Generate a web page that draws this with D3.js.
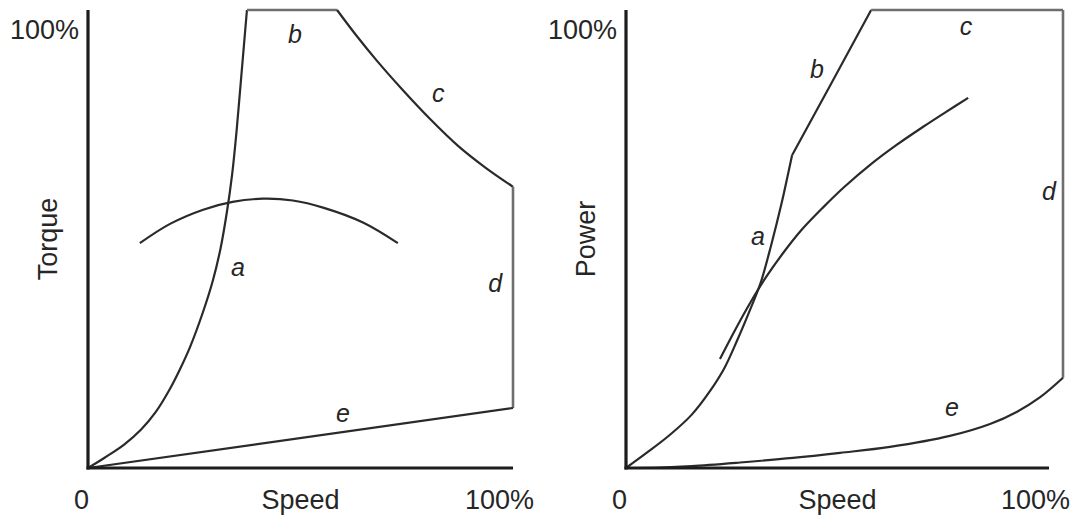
<!DOCTYPE html>
<html>
<head>
<meta charset="utf-8">
<script src="https://cdn.jsdelivr.net/npm/d3@7"></script>
<style>
  html, body { margin: 0; padding: 0; background: #fff; }
  svg { display: block; }
  text { font-family: "Liberation Sans", Arial, Helvetica, sans-serif; fill: #262626; }
</style>
</head>
<body>
<svg id="chart" width="1078" height="519"></svg>
<script>
// ---------- DATA (percent of full speed / full torque or power) ----------
// Torque panel
const torqueA     = [[0,0],[4,2.3],[8.5,5.1],[12.5,8.4],[16,12.3],[19,16.8],[21.5,21.3],[24,26.4],[27,33.9],[29.4,41.0],[31.2,48.0],[32.7,56.0],[33.9,64.0],[35,74.0],[36.2,87.0],[37.4,100]];
const torqueB     = [[37.4,100],[58.6,100]];
const torqueC     = [[58.6,100],[63,94.6],[68,88.9],[74,82.6],[80.5,76.2],[87,70.4],[93.5,65.6],[100,61.4]];
const torqueD     = [[100,61.4],[100,13.1]];
const torqueE     = [[100,13.1],[0,0]];
const torqueArc   = [[12.2,49.1],[19.3,53.3],[27.1,56.4],[34,58.1],[41.2,58.8],[48.2,58.4],[55.5,56.8],[64.7,53.6],[72.9,49.1]];
const torqueLabels = [["b",48.7,92.8],["c",82.4,79.9],["a",35.3,41.9],["d",95.8,38.4],["e",60.0,10.0]];

// Power panel
const powerA      = [[0,0],[5,3.5],[10,7.2],[15,11.6],[19,16.5],[22.5,21.8],[25.5,28.0],[28.5,34.8],[30.8,40.4],[33.2,48.6],[35.6,57.8],[38,68.3]];
const powerB      = [[38,68.3],[47,84.0],[56.1,100]];
const powerC      = [[56.1,100],[100,100]];
const powerD      = [[100,100],[100,19.7]];
const powerE      = [[100,19.7],[94.7,15.4],[89.5,12.3],[83.3,9.6],[74.1,7.0],[60.4,4.6],[49,3.3],[38.2,2.2],[26.1,1.2],[15,0.4],[8,0.1],[0,0]];
const powerArc    = [[21.5,23.8],[25,30.2],[28.5,36.2],[32,41.6],[36,47.0],[40,51.8],[45,56.8],[50,61.4],[56,66.3],[62,70.6],[68,74.5],[73,77.6],[78.3,80.8]];
const powerLabels = [["b",43.7,85.2],["a",30.2,48.7],["c",77.8,94.5],["d",96.8,58.5],["e",74.6,11.4]];

// Axis text
const axisTitles   = ["Torque","Power"];
const xTitle       = "Speed";
const xTickLabels  = ["0","100%"];
const yTickLabel   = "100%";

// ---------- DRAWING ----------
const svg = d3.select("#chart");

const panels = [
  { title: axisTitles[0], left: 88,  right: 513,  axisEnd: 100,  curves: { a: torqueA, b: torqueB, c: torqueC, d: torqueD, e: torqueE, arc: torqueArc },
    smooth: { a: true, b: false, c: true, d: false, e: false, arc: true },
    gray:   { b: true, d: true }, labels: torqueLabels },
  { title: axisTitles[1], left: 626, right: 1063, axisEnd: 96.8, curves: { a: powerA, b: powerB, c: powerC, d: powerD, e: powerE, arc: powerArc },
    smooth: { a: true, b: false, c: false, d: false, e: true, arc: true },
    gray:   { c: true, d: true }, labels: powerLabels }
];

const plotTop = 10, plotBottom = 468;
const axisFont = 27, letterFont = 25;

panels.forEach(p => {
  const x = d3.scaleLinear().domain([0, 100]).range([p.left, p.right]);
  const y = d3.scaleLinear().domain([0, 100]).range([plotBottom, plotTop]);
  const g = svg.append("g");

  const lineSmooth = d3.line().x(d => x(d[0])).y(d => y(d[1])).curve(d3.curveCatmullRom.alpha(0.5));
  const lineStraight = d3.line().x(d => x(d[0])).y(d => y(d[1])).curve(d3.curveLinear);

  // curves
  Object.keys(p.curves).forEach(k => {
    const isGray = p.gray[k];
    g.append("path")
      .attr("d", (p.smooth[k] ? lineSmooth : lineStraight)(p.curves[k]))
      .attr("fill", "none")
      .attr("stroke", isGray ? "#6e6e6e" : "#2a2a2a")
      .attr("stroke-width", isGray ? 2.6 : 2.2)
      .attr("stroke-linejoin", "miter")
      .attr("stroke-linecap", "butt");
  });

  // axes
  g.append("line")
    .attr("x1", x(0)).attr("x2", x(0))
    .attr("y1", y(100)).attr("y2", y(0) + 1.5)
    .attr("stroke", "#1c1c1c").attr("stroke-width", 3.2);
  g.append("line")
    .attr("x1", x(0) - 1.5).attr("x2", x(p.axisEnd))
    .attr("y1", y(0)).attr("y2", y(0))
    .attr("stroke", "#1c1c1c").attr("stroke-width", 3.2);

  // tick labels
  g.append("text").attr("x", x(0) - 9).attr("y", y(100) + 29)
    .attr("text-anchor", "end").attr("font-size", axisFont).text(yTickLabel);
  g.append("text").attr("x", x(0) + 1).attr("y", plotBottom + 41)
    .attr("text-anchor", "end").attr("font-size", axisFont).text(xTickLabels[0]);
  g.append("text").attr("x", x(p.axisEnd) + 21).attr("y", plotBottom + 41)
    .attr("text-anchor", "end").attr("font-size", axisFont).text(xTickLabels[1]);

  // axis titles
  g.append("text")
    .attr("x", (x(0) + x(p.axisEnd)) / 2).attr("y", plotBottom + 41)
    .attr("text-anchor", "middle").attr("font-size", axisFont).text(xTitle);
  g.append("text")
    .attr("transform", `translate(${x(0) - 31},${(plotTop + plotBottom) / 2}) rotate(-90)`)
    .attr("text-anchor", "middle").attr("font-size", axisFont).text(p.title);

  // curve letters
  g.selectAll("text.lbl").data(p.labels).enter().append("text")
    .attr("class", "lbl")
    .attr("x", d => x(d[1])).attr("y", d => y(d[2]))
    .attr("text-anchor", "middle")
    .attr("font-size", letterFont).attr("font-style", "italic")
    .text(d => d[0]);
});
</script>
</body>
</html>
